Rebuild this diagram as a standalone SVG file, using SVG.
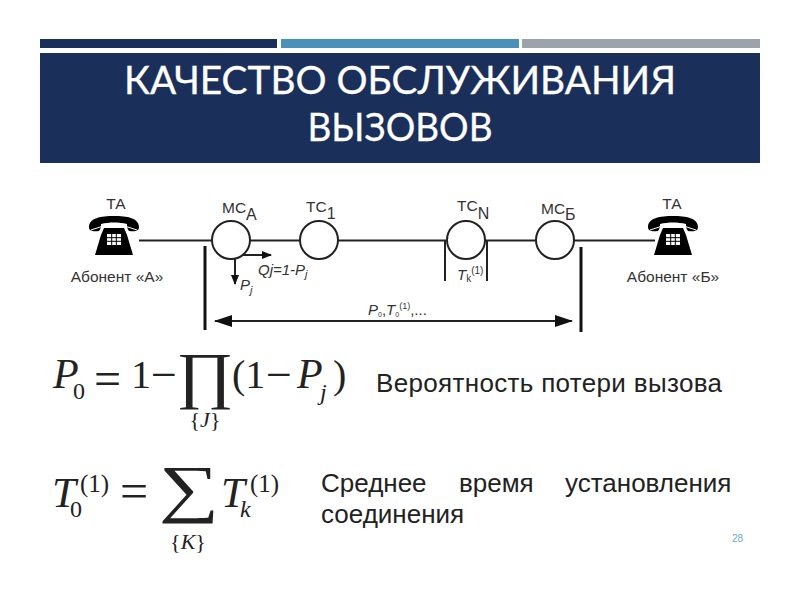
<svg xmlns="http://www.w3.org/2000/svg" width="800" height="600" viewBox="0 0 800 600">
<style>
.t{font-family:"Lato","Open Sans","Noto Sans",sans-serif;font-size:38.800px;fill:#fff;text-anchor:middle;stroke:#fff;stroke-width:.3px}
.s{font-family:"Liberation Sans",Arial,sans-serif;fill:#333}
.lb{font-size:15.500px}.ab{font-size:15.500px}.sub{font-size:16px}
.it{font-style:italic;font-size:15px}
.r{font-family:"Liberation Sans",Arial,sans-serif;font-size:26px;fill:#222}
.m{font-family:"Liberation Serif","Times New Roman",serif;fill:#222}
.mi{font-style:italic}
.line{stroke:#222;stroke-width:2;fill:none}
.bar{stroke:#111;stroke-width:3;fill:none}
.node{fill:#fff;stroke:#222;stroke-width:2}
</style>
<defs>
<marker id="a" markerWidth="10" markerHeight="8" refX="9" refY="4" orient="auto-start-reverse" markerUnits="userSpaceOnUse"><path d="M0 0L10 4L0 8Z" fill="#111"/></marker>
<marker id="b" markerWidth="18" markerHeight="12" refX="17" refY="6" orient="auto-start-reverse" markerUnits="userSpaceOnUse"><path d="M0 0L18 6L0 12Z" fill="#111"/></marker>
<g id="ph">
<path d="M0 10C0 1 12-1 25-1S50 1 50 10C50 14 46 15 40 14C38 12 38 9 38 7C30 5 20 5 12 7C12 9 12 12 10 14C4 15 0 14 0 10Z" fill="#000"/>
<path d="M2 13Q25 3 48 13" stroke="#fff" stroke-width="1" fill="none"/>
<path d="M15 11H35L38 18L44 38H6L12 18Z" fill="#000"/>
<g fill="#fff"><rect x="18" y="17" width="14" height="11"/></g>
<path d="M18 20.700H32M18 24.300H32M22.700 17V28M27.300 17V28" stroke="#000" stroke-width="1"/>
</g>
</defs>
<rect width="800" height="600" fill="#fff"/>
<g id="header">
<rect x="40" y="39" width="237" height="9" fill="#1b2f5b"/>
<rect x="281" y="39" width="238" height="9" fill="#4a90b8"/>
<rect x="522" y="39" width="238" height="9" fill="#9ca3ad"/>
<rect x="40" y="53" width="720" height="110" fill="#1b2f5b"/>
<text class="t" x="400" y="94">КАЧЕСТВО ОБСЛУЖИВАНИЯ</text>
<text class="t" x="400" y="141" textLength="185" lengthAdjust="spacingAndGlyphs">ВЫЗОВОВ</text>
</g>
<g id="connectors">
<path class="line" d="M139 240.500H213M250 240.500H300M338 240.500H447M485 240.500H536M574 240.500H655"/>
<path class="line" d="M445 240V281M487 240V281"/>
<path class="line" d="M235 258V284" marker-end="url(#a)"/>
<path class="line" d="M243 255H271" marker-end="url(#a)"/>
<path class="bar" d="M205 246V330M581 247V332"/>
<path class="line" d="M215 321H572" marker-start="url(#b)" marker-end="url(#b)"/>
</g>
<g id="phone-a"><use href="#ph" x="89" y="217"/><text class="s lb" x="116" y="209" text-anchor="middle">ТА</text><text class="s ab" x="117" y="282" text-anchor="middle">Абонент «А»</text></g>
<g id="phone-b"><use href="#ph" x="648" y="217"/><text class="s lb" x="672" y="209" text-anchor="middle">ТА</text><text class="s ab" x="673" y="282" text-anchor="middle">Абонент «Б»</text></g>
<g id="mc-a"><circle class="node" cx="231" cy="240" r="19"/><text class="s lb" x="222" y="213">МС<tspan class="sub" dy="7">А</tspan></text></g>
<g id="tc-1"><circle class="node" cx="319" cy="240" r="19"/><text class="s lb" x="306" y="212">ТС<tspan class="sub" dy="7">1</tspan></text></g>
<g id="tc-n"><circle class="node" cx="466" cy="240" r="19"/><text class="s lb" x="457" y="211">ТС<tspan class="sub" dy="8">N</tspan></text></g>
<g id="mc-b"><circle class="node" cx="555" cy="240" r="19"/><text class="s lb" x="541" y="214">МС<tspan class="sub" dy="6">Б</tspan></text></g>
<g id="labels">
<text class="s it" x="258" y="275">Qj=1-P<tspan font-size="11" dy="3">j</tspan></text>
<text class="s it" x="240" y="290">P<tspan font-size="11" dy="4">j</tspan></text>
<text class="s it" x="457" y="280">T<tspan font-size="10" dy="2" font-style="normal">k</tspan><tspan font-size="10" font-style="normal" dy="-8">(1)</tspan></text>
<text class="s it" x="368" y="315">P<tspan font-size="7" dy="2" font-style="normal">0</tspan><tspan dy="-2" font-style="normal">,</tspan>T<tspan font-size="7" dy="2" font-style="normal">0</tspan><tspan font-size="9" font-style="normal" dy="-8">(1)</tspan><tspan dy="6" font-style="normal">,...</tspan></text>
</g>
<g id="formula-1">
<text class="m mi" x="53" y="388" font-size="42">P</text><text class="m" x="73" y="399" font-size="24">0</text>
<text class="m" x="94" y="395" font-size="48">=</text><text class="m" x="131" y="388" font-size="40">1</text><text class="m" x="151" y="390" font-size="46">−</text>
<text class="m" transform="translate(205 396) scale(1.160 1.050)" font-size="60" text-anchor="middle">∏</text>
<text class="m" x="205" y="427" font-size="22" text-anchor="middle">{<tspan class="mi">J</tspan>}</text>
<text class="m" x="232" y="388" font-size="40">(1</text><text class="m" x="266" y="390" font-size="46">−</text><text class="m mi" x="297" y="388" font-size="42">P</text><text class="m mi" x="320" y="400" font-size="24">j</text><text class="m" x="333" y="388" font-size="40">)</text>
</g>
<g id="formula-2">
<text class="m mi" x="52" y="507" font-size="43">T</text><text class="m" x="70" y="517" font-size="24">0</text><text class="m" x="80" y="492" font-size="25">(1)</text>
<text class="m" x="120" y="508" font-size="50">=</text>
<text class="m" transform="translate(189 510) scale(1.370 1.040)" font-size="62" text-anchor="middle">∑</text>
<text class="m" x="188" y="549" font-size="22" text-anchor="middle">{<tspan class="mi">K</tspan>}</text>
<text class="m mi" x="221" y="507" font-size="43">T</text><text class="m mi" x="240" y="517" font-size="24">k</text><text class="m" x="250" y="492" font-size="25">(1)</text>
</g>
<g id="text-right">
<text class="r" x="376" y="392" textLength="346">Вероятность потери вызова</text>
<text class="r" x="321" y="492">Среднее</text><text class="r" x="459" y="492">время</text><text class="r" x="565" y="492">установления</text>
<text class="r" x="321" y="523">соединения</text>
</g>
<text x="743" y="542" text-anchor="end" font-family="Liberation Sans,Arial,sans-serif" font-size="10" fill="#6fa8c8">28</text>
</svg>
